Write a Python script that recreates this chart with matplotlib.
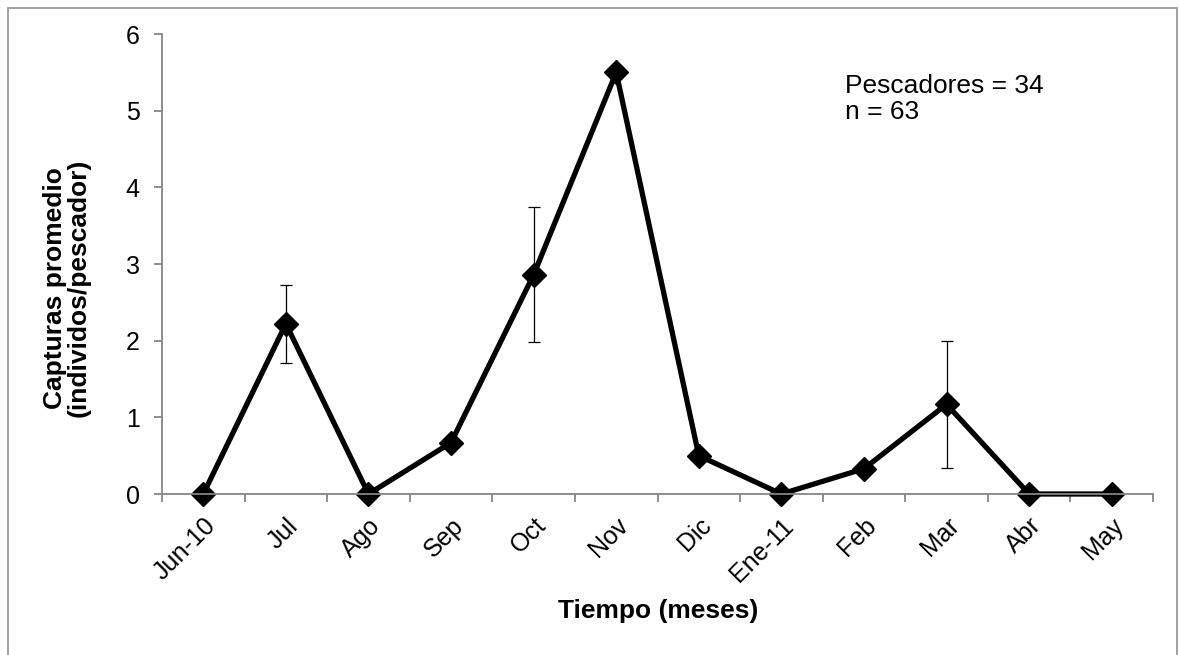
import matplotlib
matplotlib.use("Agg")
import matplotlib.pyplot as plt
from matplotlib.patches import Rectangle
import numpy as np

plt.rcParams['font.family'] = ['Liberation Sans', 'DejaVu Sans']

months = ["Jun-10", "Jul", "Ago", "Sep", "Oct", "Nov", "Dic",
          "Ene-11", "Feb", "Mar", "Abr", "May"]
captures = [0.0, 2.22, 0.0, 0.67, 2.86, 5.5, 0.5, 0.0, 0.33, 1.17, 0.0, 0.0]
errors = [0.0, 0.51, 0.0, 0.0, 0.88, 0.0, 0.0, 0.0, 0.0, 0.83, 0.0, 0.0]
y_ticks = [0, 1, 2, 3, 4, 5, 6]

axis_gray = "#868686"
tick_fs = 18
label_fs = 19

fig = plt.figure(figsize=(11.79, 6.55), dpi=100)
ax = fig.add_axes([162 / 1179, 1 - 494 / 655, (1153 - 162) / 1179, (494 - 34) / 655])

x = np.arange(len(months))
err = np.array(errors)
has_err = err > 0
ax.errorbar(x[has_err], np.array(captures)[has_err], yerr=err[has_err],
            fmt='none', ecolor='black', elinewidth=0.9, capsize=4.5,
            capthick=0.9, zorder=3)
ax.plot(x, captures, color='black', linewidth=3.8, marker='D',
        markersize=12, markerfacecolor='black', markeredgecolor='black',
        zorder=2, clip_on=False)

ax.set_xlim(-0.5, len(months) - 0.5)
ax.set_ylim(0, 6)
ax.set_yticks(y_ticks)
ax.set_yticklabels([str(v) for v in y_ticks], fontsize=tick_fs)

# tick marks sit between categories, labels at the category centres
ax.set_xticks(np.arange(len(months) + 1) - 0.5)
ax.set_xticklabels([])
ax.set_xticks(x, minor=True)
ax.set_xticklabels(months, minor=True, rotation=45, ha='right',
                   rotation_mode='anchor', fontsize=tick_fs)
ax.tick_params(axis='x', which='minor', length=0, pad=14)
ax.tick_params(axis='x', which='major', length=6, width=1.3, color=axis_gray,
               direction='out')
ax.tick_params(axis='y', length=6, width=1.3, color=axis_gray,
               direction='out', pad=10)

for side in ('top', 'right'):
    ax.spines[side].set_visible(False)
for side in ('left', 'bottom'):
    ax.spines[side].set_color(axis_gray)
    ax.spines[side].set_linewidth(1.3)

ax.set_xlabel("Tiempo (meses)", fontsize=label_fs, fontweight='bold')
ax.xaxis.set_label_coords(0.5005, -(599 - 494) / 460)
ax.set_ylabel("Capturas promedio\n(individos/pescador)", fontsize=label_fs,
              fontweight='bold', linespacing=1.0, va='center')
ax.yaxis.set_label_coords((67 - 162) / 991, (494 - 288) / 460)

fig.text(845 / 1179, 1 - 99 / 655, "Pescadores = 34\nn = 63", fontsize=label_fs,
         va='center', ha='left', linespacing=1.15)

fig.patches.append(Rectangle((8 / 1179, -0.05), (1177 - 8) / 1179, 1.05 - 8 / 655,
                             transform=fig.transFigure, fill=False,
                             edgecolor="#9a9a9a", linewidth=1.3))

fig.savefig("out.png", dpi=100, facecolor='white')
